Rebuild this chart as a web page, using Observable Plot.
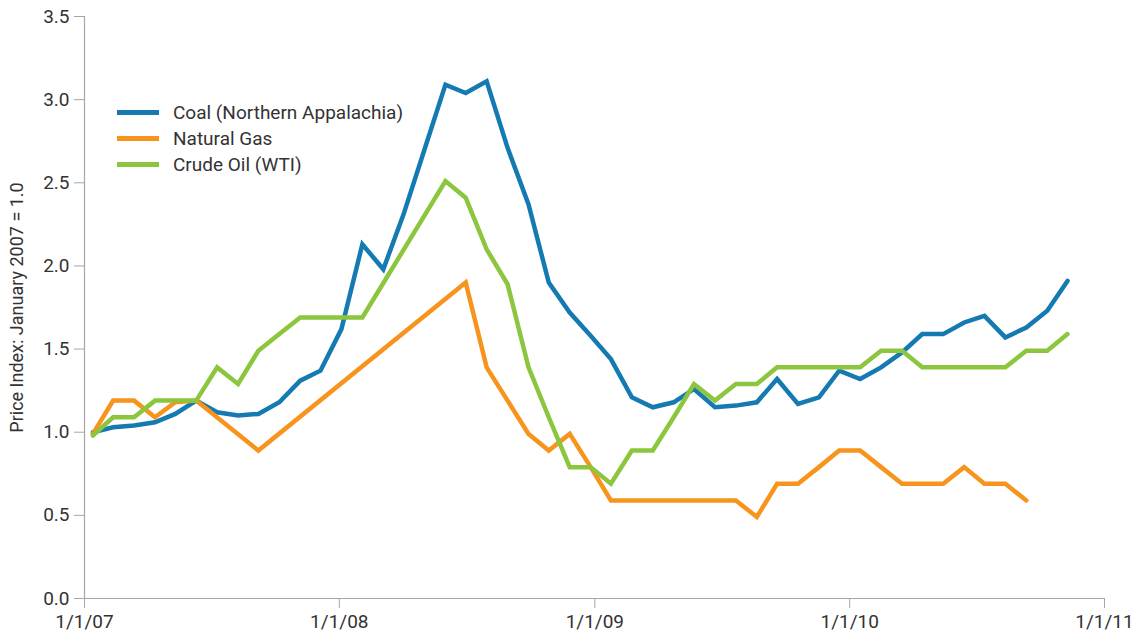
<!DOCTYPE html>
<html>
<head>
<meta charset="utf-8">
<script src="https://cdn.jsdelivr.net/npm/d3@7"></script>
<script src="https://cdn.jsdelivr.net/npm/@observablehq/plot@0.6"></script>
<style>
  body { margin: 0; background: #fff; font-family: Roboto, "Liberation Sans", sans-serif; }
  #chart { position: relative; width: 1141px; height: 638px; }
  .legend { position: absolute; left: 117px; top: 99px; color: #333; font-size: 19px; }
  .legend-row { display: flex; align-items: center; height: 26px; }
  .legend-swatch { width: 42px; height: 5px; margin-right: 14px; }
</style>
</head>
<body>
<div id="chart"></div>
<script>
// Sampling dates of the price observations (roughly monthly)
const sampleDates = [
  "2007-01-13", "2007-02-11", "2007-03-13", "2007-04-12", "2007-05-11", "2007-06-10",
  "2007-07-10", "2007-08-09", "2007-09-07", "2007-10-07", "2007-11-06", "2007-12-05",
  "2008-01-04", "2008-02-03", "2008-03-04", "2008-04-02", "2008-05-02", "2008-06-01",
  "2008-06-30", "2008-07-30", "2008-08-29", "2008-09-28", "2008-10-27", "2008-11-26",
  "2008-12-26", "2009-01-24", "2009-02-23", "2009-03-25", "2009-04-24", "2009-05-23",
  "2009-06-22", "2009-07-22", "2009-08-21", "2009-09-19", "2009-10-19", "2009-11-18",
  "2009-12-17", "2010-01-16", "2010-02-15", "2010-03-17", "2010-04-15", "2010-05-15",
  "2010-06-14", "2010-07-13", "2010-08-12", "2010-09-11", "2010-10-11", "2010-11-09"
];

// Price index, January 2007 = 1.0 (null = no observation)
const coal = [
  1.00, 1.03, 1.04, 1.06, 1.11, 1.19, 1.12, 1.10, 1.11, 1.18, 1.31, 1.37,
  1.62, 2.13, 1.98, 2.31, 2.70, 3.09, 3.04, 3.11, 2.71, 2.37, 1.90, 1.72,
  1.58, 1.44, 1.21, 1.15, 1.18, 1.26, 1.15, 1.16, 1.18, 1.32, 1.17, 1.21,
  1.37, 1.32, 1.39, 1.48, 1.59, 1.59, 1.66, 1.70, 1.57, 1.63, 1.73, 1.91
];
const naturalGas = [
  0.99, 1.19, 1.19, 1.09, 1.18, 1.19, null, null, 0.89, null, null, null,
  null, null, null, null, null, null, 1.90, 1.39, 1.19, 0.99, 0.89, 0.99,
  0.79, 0.59, 0.59, 0.59, 0.59, 0.59, 0.59, 0.59, 0.49, 0.69, 0.69, 0.79,
  0.89, 0.89, 0.79, 0.69, 0.69, 0.69, 0.79, 0.69, 0.69, 0.59, null, null
];
const crudeOil = [
  0.98, 1.09, 1.09, 1.19, 1.19, 1.19, 1.39, 1.29, 1.49, 1.59, 1.69, 1.69,
  1.69, 1.69, null, null, null, 2.51, 2.41, 2.10, 1.89, 1.39, 1.09, 0.79,
  0.79, 0.69, 0.89, 0.89, 1.09, 1.29, 1.19, 1.29, 1.29, 1.39, 1.39, 1.39,
  1.39, 1.39, 1.49, 1.49, 1.39, 1.39, 1.39, 1.39, 1.39, 1.49, 1.49, 1.59
];

const seriesNames = ["Coal (Northern Appalachia)", "Natural Gas", "Crude Oil (WTI)"];
const seriesColors = ["#157ab1", "#f7941e", "#8cc63f"];

const yTicks = [0, 0.5, 1, 1.5, 2, 2.5, 3, 3.5];
const xTickDates = ["2007-01-01", "2008-01-01", "2009-01-01", "2010-01-01", "2011-01-01"];
const xTickLabels = ["1/1/07", "1/1/08", "1/1/09", "1/1/10", "1/1/11"];

// Long-format rows; gaps are skipped so each line connects its observations
const rows = [];
[coal, naturalGas, crudeOil].forEach((values, s) => {
  values.forEach((v, i) => {
    if (v != null) rows.push({series: seriesNames[s], date: new Date(sampleDates[i]), value: v});
  });
});

const tickDates = xTickDates.map(d => new Date(d));
const labelByTime = new Map(tickDates.map((d, i) => [+d, xTickLabels[i]]));

const axisGray = "#a6a6a6";
const textColor = "#333";
const fontFamily = "Roboto, 'Liberation Sans', sans-serif";

const chart = Plot.plot({
  width: 1141,
  height: 638,
  marginLeft: 84,
  marginRight: 37,
  marginTop: 16,
  marginBottom: 40,
  style: {fontFamily, fontSize: "19px", background: "#fff", color: textColor},
  x: {type: "utc", domain: [tickDates[0], tickDates[tickDates.length - 1]]},
  y: {domain: [0, 3.5]},
  color: {domain: seriesNames, range: seriesColors},
  marks: [
    Plot.axisY({
      ticks: yTicks,
      tickFormat: d => d.toFixed(1),
      tickSize: 10,
      tickPadding: 5,
      fontSize: 19,
      stroke: axisGray,
      fill: textColor,
      label: null
    }),
    Plot.axisY({
      ticks: [],
      tickSize: 0,
      fontSize: 18,
      fill: textColor,
      label: "Price Index: January 2007 = 1.0",
      labelAnchor: "center",
      labelArrow: "none",
      labelOffset: 74
    }),
    Plot.axisX({
      ticks: tickDates,
      tickFormat: d => labelByTime.get(+d),
      tickSize: 10,
      tickPadding: 6,
      fontSize: 19,
      stroke: axisGray,
      fill: textColor,
      label: null
    }),
    Plot.ruleX([tickDates[0]], {stroke: axisGray, strokeWidth: 1.2}),
    Plot.ruleY([0], {stroke: axisGray, strokeWidth: 1.2}),
    Plot.line(rows, {
      x: "date",
      y: "value",
      z: "series",
      stroke: "series",
      strokeWidth: 4.5,
      strokeLinejoin: "miter",
      strokeMiterlimit: 3,
      strokeLinecap: "round"
    })
  ]
});

const container = document.getElementById("chart");
container.appendChild(chart);

// Legend drawn over the upper-left of the plot area
const legend = document.createElement("div");
legend.className = "legend";
seriesNames.forEach((name, i) => {
  const row = document.createElement("div");
  row.className = "legend-row";
  const sw = document.createElement("span");
  sw.className = "legend-swatch";
  sw.style.background = seriesColors[i];
  const label = document.createElement("span");
  label.textContent = name;
  row.appendChild(sw);
  row.appendChild(label);
  legend.appendChild(row);
});
container.appendChild(legend);
</script>
</body>
</html>
